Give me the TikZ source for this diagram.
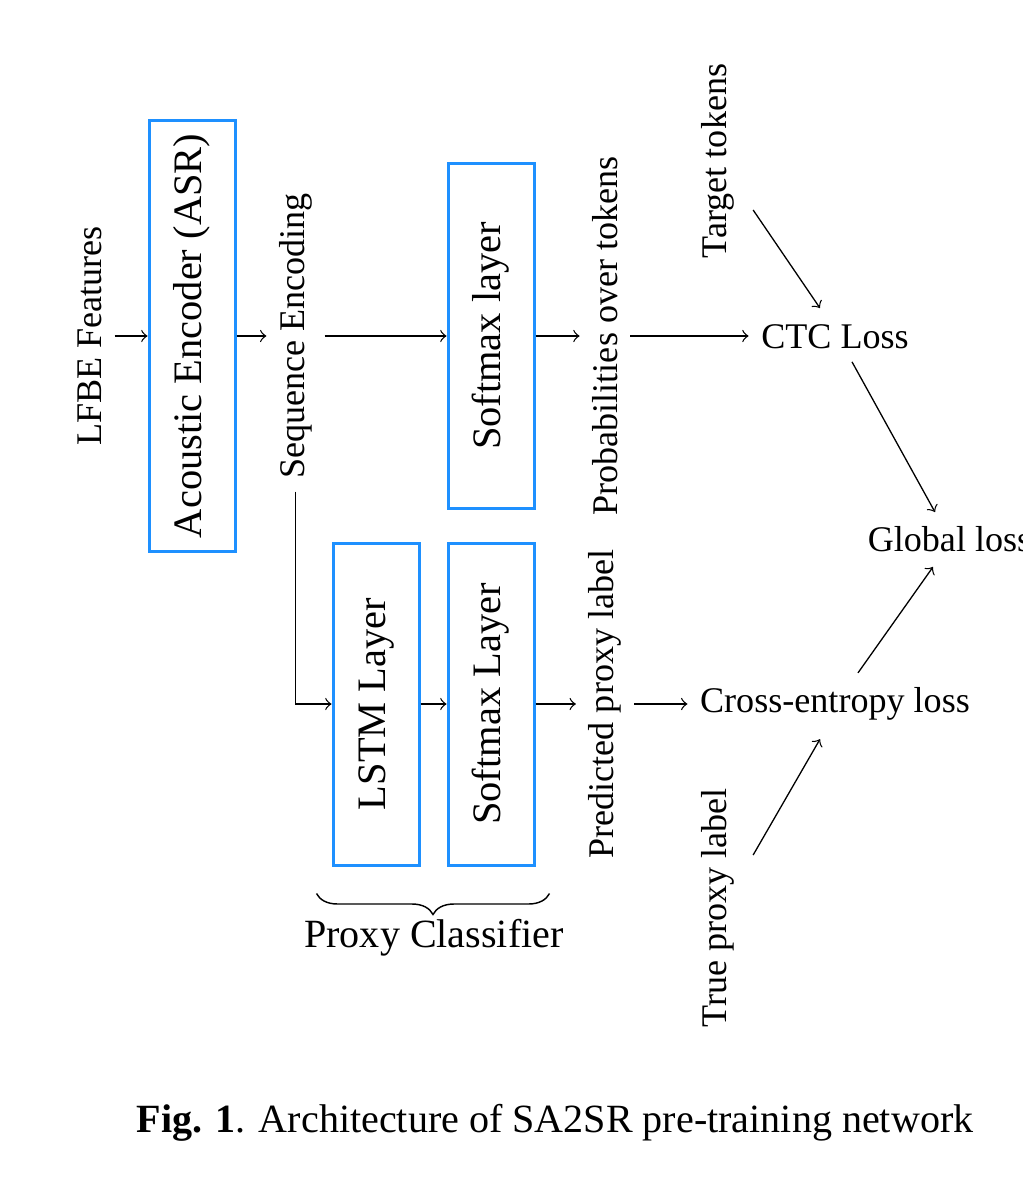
\documentclass[tikz,border=0pt]{standalone}
\usepackage{fontspec}
\setmainfont{Liberation Serif}
\usepackage{graphicx}
\usetikzlibrary{calc,decorations.pathreplacing}
\definecolor{boxblue}{RGB}{30,144,255}
\newcommand\pxu{0.277pt}
\begin{document}
\begin{tikzpicture}[x=0.277pt,y=-0.277pt,
  box/.style={draw=boxblue, line width=0.83pt, minimum width=86*\pxu, inner sep=0pt, font=\fontsize{11.2}{13}\selectfont},
  lbl/.style={inner sep=12*\pxu, font=\fontsize{10}{12}\selectfont},
  arr/.style={->, line width=0.36pt}]
\useasboundingbox (0,0) rectangle (1022,1180);
% top row
\node[lbl] (lfbe) at (90,336) {\rotatebox{90}{LFBE Features}};
\node[box, minimum height=431*\pxu] (enc) at (192,336) {\rotatebox{90}{Acoustic Encoder (ASR)}};
\node[lbl] (seq) at (295.5,336) {\rotatebox{90}{Sequence Encoding}};
\node[box, minimum height=345*\pxu] (soft1) at (491,336) {\rotatebox{90}{Softmax layer}};
\node[lbl] (prob) at (605,336) {\rotatebox{90}{Probabilities over tokens}};
\node[lbl] (ctc) at (835,337) {CTC Loss};
\node[lbl] (tgt) at (718,161) {\rotatebox{90}{Target tokens}};
\node[lbl] (glb) at (949.5,539) {Global loss};
% bottom row
\node[box, minimum height=322*\pxu] (lstm) at (376,704) {\rotatebox{90}{LSTM Layer}};
\node[box, minimum height=322*\pxu] (soft2) at (491,704) {\rotatebox{90}{Softmax Layer}};
\node[lbl] (pred) at (605,704) {\rotatebox{90}{Predicted proxy label}};
\node[lbl] (ce) at (835,704) {Cross-entropy loss};
\node[lbl] (tru) at (718,908) {\rotatebox{90}{True proxy label}};
\node[font=\fontsize{11.1}{13}\selectfont] (pc) at (434,938) {Proxy Classifier};
\node[font=\fontsize{11.1}{13}\selectfont] (cap) at (555,1123) {\textbf{Fig. 1}. Architecture of SA2SR pre-training network};
% connectors
\draw[arr] (lfbe) -- (enc);
\draw[arr] (enc) -- (seq);
\draw[arr] (seq) -- (soft1);
\draw[arr] (soft1) -- (prob);
\draw[arr] (prob) -- (prob -| ctc.west);
\draw[arr] (seq.south) |- (lstm.west);
\draw[arr] (lstm) -- (soft2);
\draw[arr] (soft2) -- (pred);
\draw[arr] (pred) -- (ce);
\draw[arr] ($(tgt.east)+(6,49)$) -- ($(ctc.north)+(-15,-4)$);
\draw[arr] ($(ctc.south)+(17,0)$) -- ($(glb.north)+(-14.5,-1.5)$);
\draw[arr] ($(ce.north)+(23,-2)$) -- ($(glb.south)+(-16.5,2.5)$);
\draw[arr] ($(tru.east)+(6,-53)$) -- ($(ce.south)+(-15,6)$);
\draw[decorate, decoration={brace, mirror, amplitude=21*\pxu}] ($(lstm.south west)+(-15,27)$) -- ($(soft2.south east)+(14,27)$);
\end{tikzpicture}
\end{document}
